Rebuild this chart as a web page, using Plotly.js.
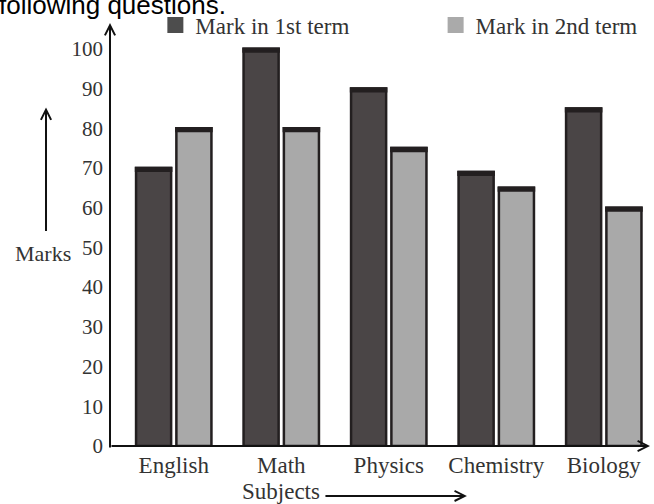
<!DOCTYPE html>
<html>
<head>
<meta charset="utf-8">
<script src="https://cdn.plot.ly/plotly-3.0.1.min.js"></script>
<style>
  html, body { margin: 0; padding: 0; background: #ffffff; }
  #chart { width: 654px; height: 504px; }
</style>
</head>
<body>
<div id="chart"></div>
<script>
// ---- data ----
var subjects = ['English', 'Math', 'Physics', 'Chemistry', 'Biology'];
var term1 = [70, 100, 90, 69, 85];
var term2 = [80, 80, 75, 65, 60];
var seriesNames = ['Mark in 1st term', 'Mark in 2nd term'];
var yTicks = [0, 10, 20, 30, 40, 50, 60, 70, 80, 90, 100];

// ---- styles ----
var dark = '#4a4546';
var light = '#a9a9a9';
var edge = '#231f20';
var serif = 'Liberation Serif, Times New Roman, serif';
var textCol = '#333333';
var capH = 0.7; // thickness (in axis units) of the darker top edge of each bar

function caps(vals) { return vals.map(function () { return capH; }); }
function capBase(vals) { return vals.map(function (v) { return v - capH; }); }

var traces = [
  {
    type: 'bar', x: subjects, y: term1, name: seriesNames[0], showlegend: false, offsetgroup: '1',
    marker: { color: dark, line: { color: edge, width: 2.5 } }
  },
  {
    type: 'bar', x: subjects, y: term2, name: seriesNames[1], showlegend: false, offsetgroup: '2',
    marker: { color: light, line: { color: edge, width: 2.5 } }
  },
  // thicker dark top edges
  {
    type: 'bar', x: subjects, y: caps(term1), base: capBase(term1), showlegend: false, offsetgroup: '1',
    marker: { color: edge, line: { color: edge, width: 2.5 } }
  },
  {
    type: 'bar', x: subjects, y: caps(term2), base: capBase(term2), showlegend: false, offsetgroup: '2',
    marker: { color: edge, line: { color: edge, width: 2.5 } }
  },
  // legend swatches
  {
    type: 'scatter', mode: 'markers', x: [null], y: [null], name: seriesNames[0],
    legend: 'legend',
    marker: { symbol: 'square', size: 16, color: '#4d4d4d' }
  },
  {
    type: 'scatter', mode: 'markers', x: [null], y: [null], name: seriesNames[1],
    legend: 'legend2',
    marker: { symbol: 'square', size: 16, color: '#aaaaaa' }
  }
];

var legendFont = { family: serif, size: 23, color: textCol };

var layout = {
  width: 654, height: 504,
  margin: { l: 110, r: 4, t: 20, b: 58, pad: 0 },
  paper_bgcolor: '#ffffff', plot_bgcolor: '#ffffff',
  barmode: 'group', bargap: 0.25, bargroupgap: 0.13,
  showlegend: true,
  legend: {
    orientation: 'h', x: 0.084, xanchor: 'left', y: 0.995, yanchor: 'middle',
    font: legendFont, bgcolor: 'rgba(0,0,0,0)'
  },
  legend2: {
    orientation: 'h', x: 0.603, xanchor: 'left', y: 0.995, yanchor: 'middle',
    font: legendFont, bgcolor: 'rgba(0,0,0,0)'
  },
  xaxis: {
    type: 'category', range: [-0.593, 4.43], showgrid: false, zeroline: false,
    showline: false, ticks: '', ticklabelstandoff: 3,
    tickfont: { family: serif, size: 23, color: textCol }, fixedrange: true
  },
  yaxis: {
    range: [0, 106.5], tickvals: yTicks, ticktext: yTicks.map(String),
    showgrid: false, zeroline: false, showline: false, ticks: '', ticklabelstandoff: 6,
    tickfont: { family: serif, size: 21, color: textCol }, fixedrange: true
  },
  annotations: [
    // y axis line with arrow
    { xref: 'paper', yref: 'paper', x: 0, y: 1, ax: 0, ay: 426, axref: 'pixel', ayref: 'pixel',
      text: '', showarrow: true, arrowhead: 5, arrowsize: 1, arrowwidth: 2, arrowcolor: '#111111' },
    // x axis line with arrow
    { xref: 'paper', yref: 'paper', x: 1, y: 0, ax: -540, ay: 0, axref: 'pixel', ayref: 'pixel',
      text: '', showarrow: true, arrowhead: 5, arrowsize: 1, arrowwidth: 2, arrowcolor: '#111111' },
    // Marks label
    { xref: 'paper', yref: 'paper', x: -0.124, y: 0.455, xanchor: 'center', yanchor: 'middle',
      text: 'Marks', showarrow: false, font: { family: serif, size: 22, color: textCol } },
    // up arrow above Marks
    { xref: 'paper', yref: 'paper', x: -0.1185, y: 0.8005, ax: 0, ay: 125, axref: 'pixel', ayref: 'pixel',
      text: '', showarrow: true, arrowhead: 5, arrowsize: 1, arrowwidth: 2, arrowcolor: '#111111' },
    // Subjects label
    { xref: 'paper', yref: 'paper', x: 0.317, y: -0.108, xanchor: 'center', yanchor: 'middle',
      text: 'Subjects', showarrow: false, font: { family: serif, size: 23, color: textCol } },
    // right arrow after Subjects
    { xref: 'paper', yref: 'paper', x: 0.661, y: -0.118, ax: -143, ay: 0, axref: 'pixel', ayref: 'pixel',
      text: '', showarrow: true, arrowhead: 5, arrowsize: 1, arrowwidth: 2, arrowcolor: '#111111' },
    // cropped caption at the very top
    { xref: 'paper', yref: 'paper', x: -0.209, y: 1.0023, xanchor: 'left', yanchor: 'bottom',
      text: 'following questions.', showarrow: false,
      font: { family: 'Liberation Sans, Arial, sans-serif', size: 26, color: '#000000' } }
  ]
};

Plotly.newPlot('chart', traces, layout, { staticPlot: true, displayModeBar: false });
</script>
</body>
</html>
